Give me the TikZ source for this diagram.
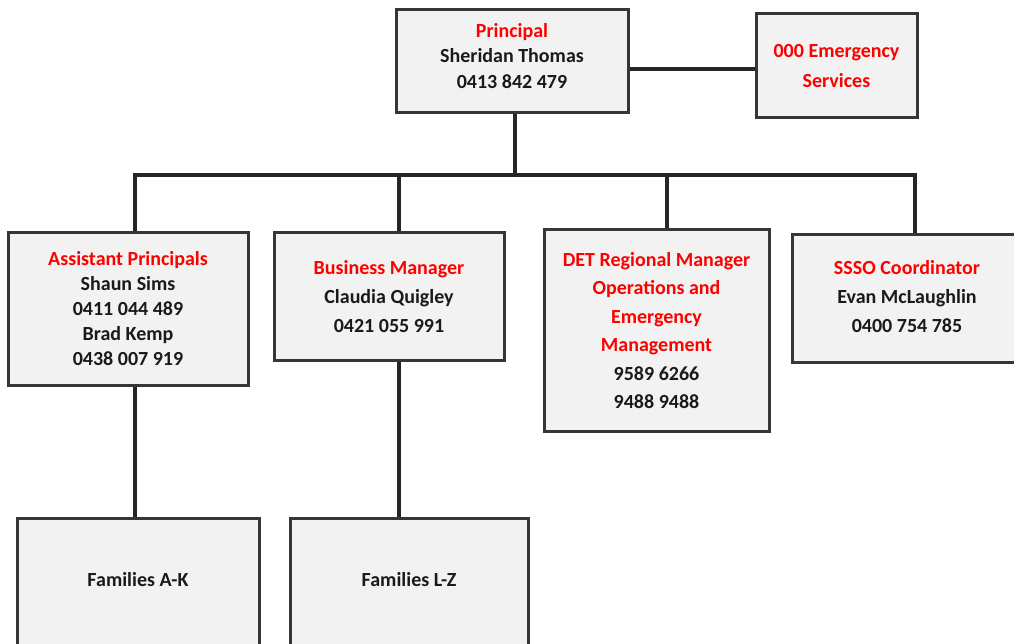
\documentclass[tikz,border=0pt]{standalone}
\usepackage{fontspec}
\setmainfont{Carlito}
\begin{document}
\begin{tikzpicture}[x=1pt,y=-1pt,
  box/.style={draw=boxline,line width=3pt,fill=boxfill,inner sep=0pt,align=center,font=\bfseries\fontsize{20}{25.5}\selectfont,text=txtblack},
  wire/.style={draw=wireline,line width=4.5pt,line join=miter},
  txt/.style={inner sep=0pt,align=center,font=\bfseries\fontsize{20}{25.5}\selectfont,text=txtblack}]
\definecolor{boxline}{HTML}{363636}
\definecolor{boxfill}{HTML}{F2F2F2}
\definecolor{wireline}{HTML}{262626}
\definecolor{txtblack}{HTML}{1A1A1A}
\definecolor{rd}{HTML}{FF0000}
\useasboundingbox (0,0) rectangle (1014,644);
\clip (0,0) rectangle (1014,644);
% top row
\node[box,minimum width=232pt,minimum height=103pt] (pr) at (512,61.5) {};
\node[txt] (prt) at (512,56)
  {\textcolor{rd}{Principal}\\Sheridan Thomas\\0413 842 479};
\node[box,minimum width=161pt,minimum height=104pt,font=\bfseries\fontsize{20}{30}\selectfont] (em) at (836.5,66)
  {\textcolor{rd}{000 Emergency}\\\textcolor{rd}{Services}};
% second row
\node[box,minimum width=240pt,minimum height=152pt,font=\bfseries\fontsize{20}{25}\selectfont] (ap) at (128,309)
  {\textcolor{rd}{Assistant Principals}\\Shaun Sims\\0411 044 489\\Brad Kemp\\0438 007 919};
\node[box,minimum width=230pt,minimum height=127pt,font=\bfseries\fontsize{20}{29}\selectfont] (bm) at (389,296.5)
  {\textcolor{rd}{Business Manager}\\Claudia Quigley\\0421 055 991};
\node[box,minimum width=225pt,minimum height=201pt,font=\bfseries\fontsize{20}{28.4}\selectfont] (det) at (656.5,330.5)
  {\textcolor{rd}{DET Regional Manager}\\\textcolor{rd}{Operations and}\\\textcolor{rd}{Emergency}\\\textcolor{rd}{Management}\\9589 6266\\9488 9488};
\node[box,minimum width=250pt,minimum height=127pt] (ss) at (917,298.5) {};
\node[txt,font=\bfseries\fontsize{20}{29}\selectfont] (sst) at (907,297)
  {\textcolor{rd}{SSSO Coordinator}\\Evan McLaughlin\\0400 754 785};
% third row
\node[box,minimum width=242pt,minimum height=150pt,anchor=north] (fak) at (138,517) {};
\node[txt] (fakt) at (138,580) {Families A-K};
\node[box,minimum width=238pt,minimum height=150pt,anchor=north] (flz) at (409,517) {};
\node[txt] (flzt) at (409,580) {Families L-Z};
% connectors
\coordinate (bus) at (515,175);
\draw[wire] (pr.east |- 0,69) -- (em.west |- 0,69);
\draw[wire] (pr.south -| bus) -- (bus);
\draw[wire] ([xshift=7pt]ap.north) |- (bus);
\draw[wire] ([xshift=10pt]bm.north) |- (bus);
\draw[wire] ([xshift=10.5pt]det.north) |- (bus);
\draw[wire] ([xshift=-2pt]ss.north) |- (bus);
\draw[wire] ([xshift=7pt]ap.south) -- ([xshift=-3pt]fak.north);
\draw[wire] ([xshift=10pt]bm.south) -- ([xshift=-10pt]flz.north);
\end{tikzpicture}
\end{document}
